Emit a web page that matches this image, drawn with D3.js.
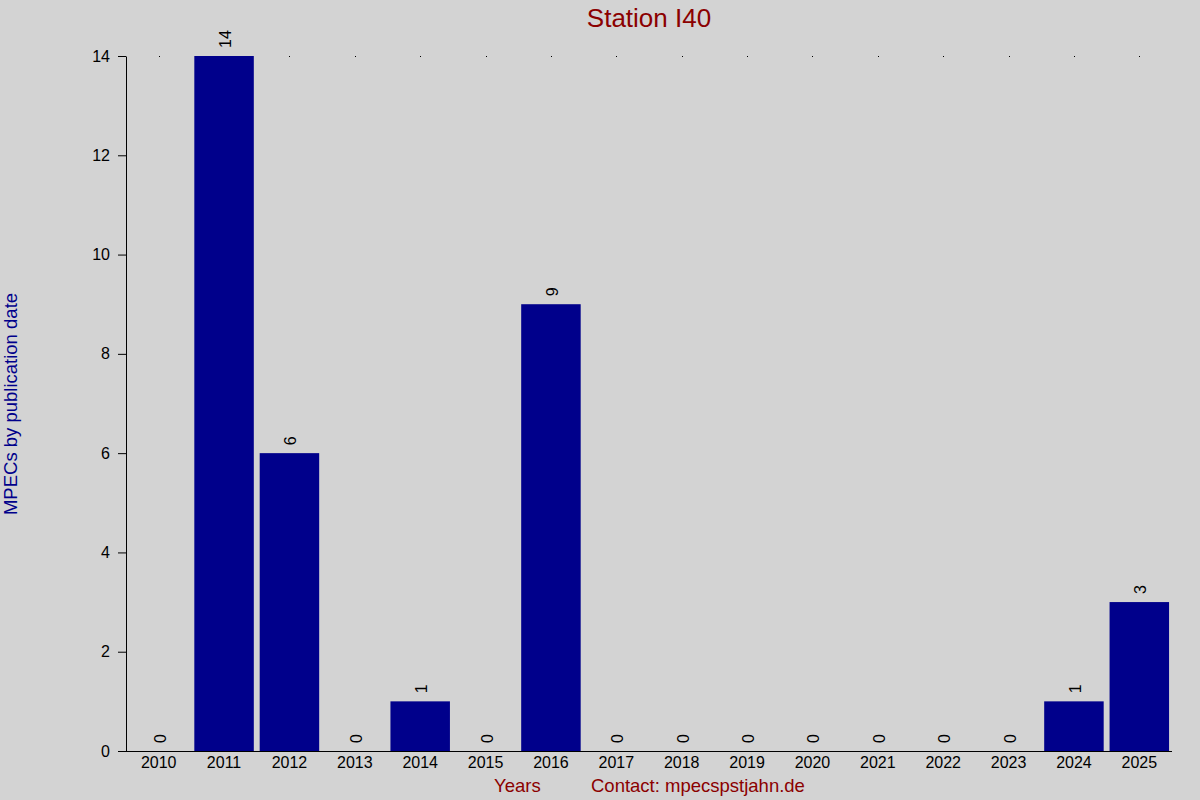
<!DOCTYPE html>
<html lang="en">
<head>
<meta charset="UTF-8">
<title>Station I40</title>
<style>
body { margin: 0; background: #d3d3d3; }
text { font-family: "Liberation Sans", Arial, sans-serif; }
</style>
</head>
<body>
<script src="https://cdn.jsdelivr.net/npm/d3@7"></script>
<script>
    var years = ["2010", "2011", "2012", "2013", "2014", "2015", "2016", "2017",
                 "2018", "2019", "2020", "2021", "2022", "2023", "2024", "2025"];
    var counts = [0, 14, 6, 0, 1, 0, 9, 0, 0, 0, 0, 0, 0, 0, 1, 3];
    var yTicks = [0, 2, 4, 6, 8, 10, 12, 14];

    var width = 1200, height = 800;
    var plotLeft = 126, plotRight = 1172, plotTop = 56, plotBottom = 751;

    var data = years.map(function(y, i) { return { year: y, n: counts[i] }; });

    var x = d3.scaleBand().domain(years).range([plotLeft, plotRight])
        .paddingInner(0.09).paddingOuter(0.045);
    var y = d3.scaleLinear().domain([0, 14]).range([plotBottom, plotTop]);

    var svg = d3.select("body").append("svg")
        .attr("width", width)
        .attr("height", height);

    svg.append("rect").attr("width", width).attr("height", height).attr("fill", "#d3d3d3");

    // little dots along the top
    svg.selectAll(".dot")
        .data(data)
        .enter().append("rect")
        .attr("x", function(d) { return Math.round(x(d.year) + x.bandwidth() / 2); })
        .attr("y", y(14))
        .attr("width", 1)
        .attr("height", 1)
        .attr("fill", "#000");

    svg.selectAll(".bar")
        .data(data)
        .enter().append("rect")
        .attr("x", function(d) { return x(d.year); })
        .attr("y", function(d) { return y(d.n); })
        .attr("width", x.bandwidth())
        .attr("height", function(d) { return y(0) - y(d.n); })
        .attr("fill", "#00008b");

    svg.selectAll(".val")
        .data(data)
        .enter().append("text")
        .attr("transform", function(d) {
            return "translate(" + (x(d.year) + x.bandwidth() / 2 + 7) + "," + (y(d.n) - 8) + ") rotate(-90)";
        })
        .attr("font-size", 16)
        .attr("fill", "#000")
        .text(function(d) { return d.n; });

    // y axis
    var yAxis = svg.append("g")
        .attr("transform", "translate(" + plotLeft + ",0)")
        .call(d3.axisLeft(y).tickValues(yTicks).tickSize(8).tickPadding(8).tickSizeOuter(0));
    yAxis.selectAll("text").attr("font-size", 16).attr("font-family", "Liberation Sans, Arial, sans-serif");

    // x axis
    var xAxis = svg.append("g")
        .attr("transform", "translate(0," + plotBottom + ")")
        .call(d3.axisBottom(x).tickSize(0).tickPadding(6));
    xAxis.select(".domain").attr("d", "M" + (plotLeft - 8) + ",0.5H" + plotRight);
    xAxis.selectAll("text").attr("font-size", 16).attr("font-family", "Liberation Sans, Arial, sans-serif");

    svg.append("text")
        .attr("x", 649).attr("y", 27)
        .attr("text-anchor", "middle")
        .attr("font-size", 26)
        .attr("fill", "#8b0000")
        .text("Station I40");

    svg.append("text")
        .attr("transform", "translate(17,404) rotate(-90)")
        .attr("text-anchor", "middle")
        .attr("font-size", 18.5)
        .attr("fill", "#00008b")
        .text("MPECs by publication date");

    svg.append("text")
        .attr("x", 494).attr("y", 792)
        .attr("font-size", 18.5)
        .attr("fill", "#8b0000")
        .text("Years");

    svg.append("text")
        .attr("x", 591).attr("y", 792)
        .attr("font-size", 18.5)
        .attr("fill", "#8b0000")
        .text("Contact: mpecspstjahn.de");
</script>
</body>
</html>
